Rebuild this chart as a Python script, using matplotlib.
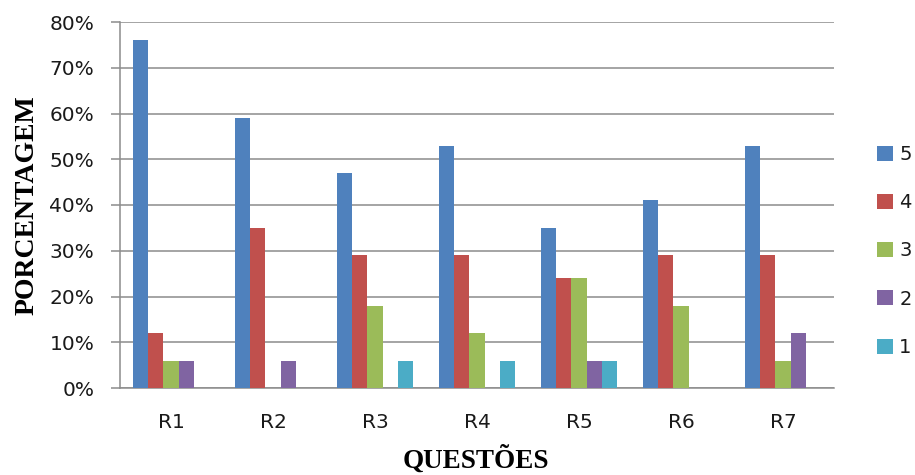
import matplotlib
matplotlib.use("Agg")
import matplotlib.pyplot as plt
import numpy as np
from matplotlib.ticker import FuncFormatter

categories = ["R1", "R2", "R3", "R4", "R5", "R6", "R7"]
series_labels = ["5", "4", "3", "2", "1"]
s5 = [76, 59, 47, 53, 35, 41, 53]
s4 = [12, 35, 29, 29, 24, 29, 29]
s3 = [6, 0, 18, 12, 24, 18, 6]
s2 = [6, 6, 0, 0, 6, 0, 12]
s1 = [0, 0, 6, 6, 6, 0, 0]
series = [s5, s4, s3, s2, s1]
colors = ["#4F81BD", "#C0504D", "#9BBB59", "#8064A2", "#4BACC6"]
yticks = [0, 10, 20, 30, 40, 50, 60, 70, 80]

fig = plt.figure(figsize=(9.15, 4.75), dpi=100)
ax = fig.add_axes([120/915, 1-388/475, (834-120)/915, (388-22)/475])

x = np.arange(len(categories))
bw = 0.15
for i, (vals, c, lab) in enumerate(zip(series, colors, series_labels)):
    ax.bar(x - 0.375 + bw*(i+0.5), vals, width=bw, color=c, label=lab,
           edgecolor="none", zorder=3)

ax.set_xlim(-0.5, len(categories)-0.5)
ax.set_ylim(0, 80)
ax.set_yticks(yticks)
ax.yaxis.set_major_formatter(FuncFormatter(lambda v, p: f"{int(v)}%"))
ax.set_xticks(x)
ax.set_xticklabels(categories)
grid_c = "#8C8C8C"
ax.yaxis.grid(True, color=grid_c, linewidth=1.1, zorder=0)
ax.set_axisbelow(True)
for s in ["top", "right"]:
    ax.spines[s].set_visible(False)
ax.spines["left"].set_color(grid_c)
ax.spines["left"].set_linewidth(1.1)
ax.spines["bottom"].set_color(grid_c)
ax.spines["bottom"].set_linewidth(1.1)
ax.tick_params(axis="y", length=6.5, width=1.1, color=grid_c, pad=12,
               labelsize=14.5, labelcolor="#1a1a1a")
ax.tick_params(axis="x", length=0, pad=18, labelsize=14.5, labelcolor="#1a1a1a")

fig.text(27/915, 1-205/475, "PORCENTAGEM", rotation=90, ha="center", va="center",
         family="Liberation Serif", fontweight="bold", fontsize=20)
fig.text(476/915, 1-460/475, "QUESTÕES", ha="center", va="center",
         family="Liberation Serif", fontweight="bold", fontsize=19.5)

leg = ax.legend(loc="center left", bbox_to_anchor=(877/915, 1-251/475),
                bbox_transform=fig.transFigure, frameon=False, fontsize=14,
                handlelength=0.8, handleheight=0.8, handletextpad=0.35,
                labelspacing=1.5, borderpad=0, borderaxespad=0)
for t in leg.get_texts():
    t.set_color("#1a1a1a")

fig.savefig("out.png", dpi=100)
